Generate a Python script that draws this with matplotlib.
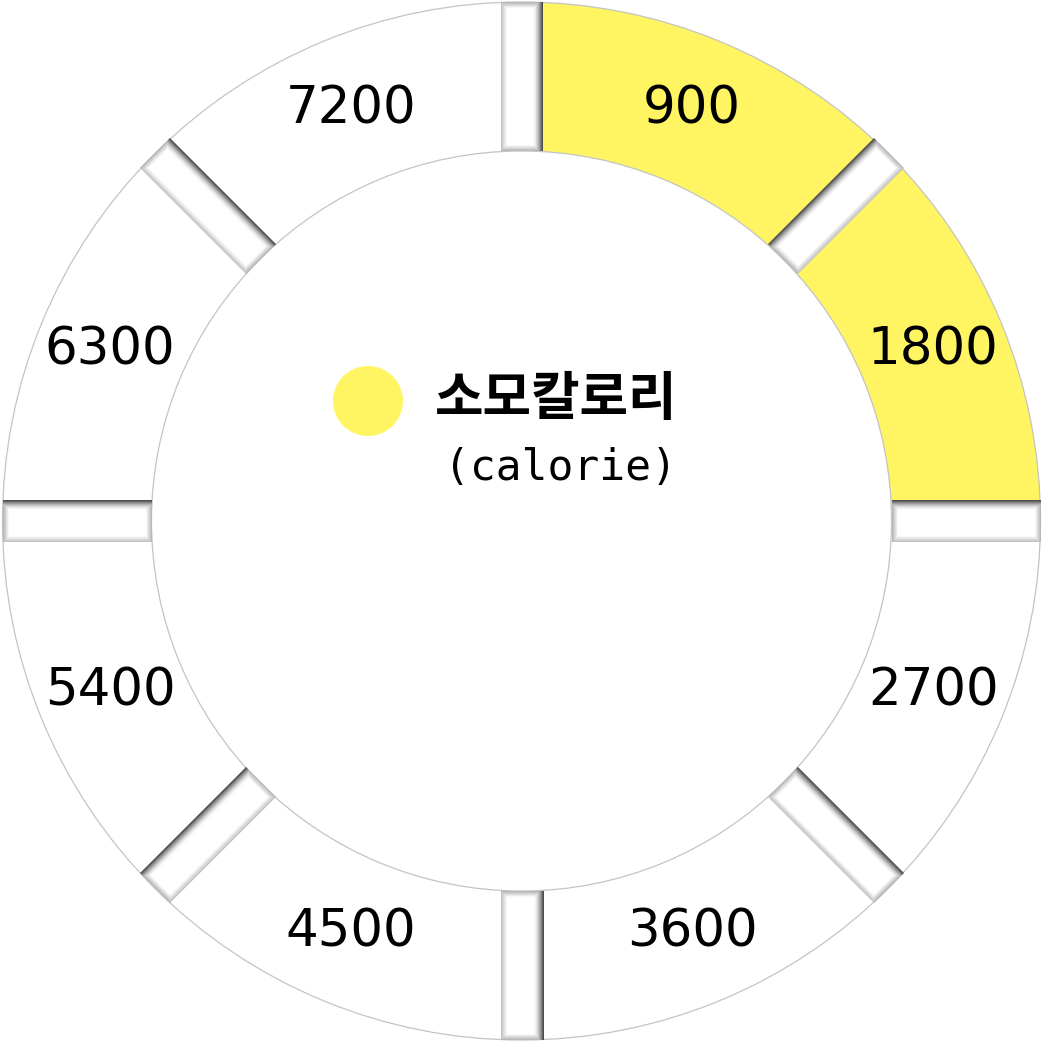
import numpy as np
import matplotlib.pyplot as plt
from matplotlib.patches import Wedge, Circle
from matplotlib.transforms import Affine2D

# Data
calories = [900, 1800, 2700, 3600, 4500, 5400, 6300, 7200]
burned = 1800
title_ko = "소모칼로리"
title_en = "(calorie)"

# Style
yellow = '#FFF562'
W, H = 1043, 1042
cx, cy = 521.5, 521.0
r_out, r_in = 519.0, 370.0
half_w = 21.0
n_seg = len(calories)
step = 360.0 / n_seg

fig = plt.figure(figsize=(W / 100, H / 100), dpi=100)
ax = fig.add_axes([0, 0, 1, 1])
ax.set_xlim(0, W)
ax.set_ylim(0, H)
ax.axis('off')

# Ring segments, clockwise from 12 o'clock
for i, val in enumerate(calories):
    t2 = 90 - step * i
    t1 = t2 - step
    col = yellow if val <= burned else 'white'
    ax.add_patch(Wedge((cx, cy), r_out, t1, t2, width=r_out - r_in,
                       facecolor=col, edgecolor='#c4c4c4', lw=0.9, zorder=1))

    mid = np.deg2rad((t1 + t2) / 2)
    r_lab = (r_out + r_in) / 2 + 1
    ax.text(cx + r_lab * np.cos(mid), cy + r_lab * np.sin(mid), str(val),
            fontsize=37, family='DejaVu Sans', ha='center', va='center',
            color='black', zorder=5)

# Bevelled separator bars
L = r_out - r_in
res = 4
u = np.linspace(-half_w, half_w, int(2 * half_w * res))
v = np.linspace(0, L, int(L * res))
U, V = np.meshgrid(u, v)

for i in range(n_seg):
    theta = 90 - step * i
    th = np.deg2rad(theta)
    # shadowed side of the bar is the upper / right one
    s = 1 if (-np.cos(th) + 0.5 * np.sin(th)) > 0 else -1
    d_dark = half_w - s * U
    d_light = half_w + s * U
    d_end = np.minimum(V, L - V)
    dark = 1 - 0.75 * np.clip(1 - d_dark / 10, 0, 1) ** 1.6
    light = 1 - 0.25 * np.clip(1 - d_light / 6, 0, 1)
    ends = 1 - 0.3 * np.clip(1 - d_end / 6, 0, 1)
    img = np.minimum(np.minimum(dark, light), ends)
    im = ax.imshow(img, cmap='gray', vmin=0, vmax=1, origin='lower',
                   extent=(-half_w, half_w, r_in, r_out),
                   interpolation='bilinear', zorder=3)
    im.set_transform(Affine2D().rotate_deg(theta - 90).translate(cx, cy) + ax.transData)

ax.set_xlim(0, W)
ax.set_ylim(0, H)

# Legend in the centre
ax.add_patch(Circle((368, H - 401), 35, facecolor=yellow, edgecolor='none', zorder=4))
ax.text(556, H - 400, title_ko, fontsize=38, family='Noto Sans CJK KR',
        fontweight='bold', ha='center', va='center', zorder=5)
ax.text(560, H - 468, title_en, fontsize=31, family='DejaVu Sans Mono',
        ha='center', va='center', zorder=5)

fig.savefig('out.png', dpi=100)
